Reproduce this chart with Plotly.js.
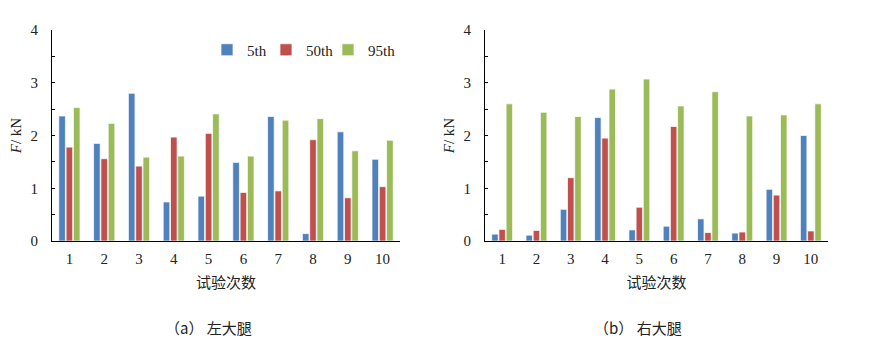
<!DOCTYPE html>
<html>
<head>
<meta charset="utf-8">
<script src="https://cdn.plot.ly/plotly-3.0.1.min.js"></script>
<style>html,body{margin:0;padding:0;background:#fff;}#chart{width:875px;height:355px;}</style>
</head>
<body>
<div id="chart"></div>
<script>
const trials = ['1','2','3','4','5','6','7','8','9','10'];
const seriesNames = ['5th','50th','95th'];
const colors = ['#4F81BD','#C0504D','#9BBB59'];
// (a) left thigh
const left5 = [2.37,1.85,2.80,0.74,0.85,1.49,2.36,0.14,2.07,1.55];
const left50 = [1.78,1.56,1.42,1.97,2.04,0.92,0.95,1.92,0.82,1.03];
const left95 = [2.53,2.23,1.59,1.61,2.41,1.61,2.29,2.32,1.71,1.91];
// (b) right thigh
const right5 = [0.13,0.11,0.60,2.34,0.21,0.28,0.42,0.15,0.98,2.00];
const right50 = [0.22,0.20,1.20,1.95,0.64,2.17,0.16,0.17,0.87,0.19];
const right95 = [2.60,2.44,2.36,2.88,3.07,2.56,2.83,2.37,2.39,2.60];
const xTitle = '试验次数';
const yTitle = '<i>F</i>/ kN';
const captions = ['（a） 左大腿','（b） 右大腿'];

const serif = 'Liberation Serif';
const cjk = 'Noto Sans CJK SC';
const W=875,H=355;
const legendNames = ['legend','legend2','legend3'];
const legendX = [207, 266, 328];

function mk(vals, i, xa, ya, show){
  return {type:'bar', x:trials, y:vals, name:seriesNames[i], xaxis:xa, yaxis:ya,
    showlegend:show, legend:legendNames[i],
    marker:{color:colors[i], line:{color:'rgba(255,255,255,0.7)', width:1}}};
}
const data = [
  mk(left5,0,'x','y',true), mk(left50,1,'x','y',true), mk(left95,2,'x','y',true),
  mk(right5,0,'x2','y2',false), mk(right50,1,'x2','y2',false), mk(right95,2,'x2','y2',false)
];
const yDom=[1-241/H, 1-30/H];
function xax(dom, anchor){
  return {type:'category', domain:dom, anchor:anchor, showline:true, linecolor:'#000', linewidth:1,
    ticks:'', showgrid:false, zeroline:false, automargin:false,
    tickfont:{family:serif,size:15,color:'#222'}, ticklabelstandoff:4,
    title:{text:xTitle, font:{family:cjk,size:15,color:'#222'}, standoff:11}};
}
function yax(anchor){
  return {domain:yDom, anchor:anchor, range:[0,4], dtick:1, showline:true, linecolor:'#000', linewidth:1,
    ticks:'inside', ticklen:3, tickcolor:'#000', showgrid:false, zeroline:false, automargin:false,
    minor:{dtick:0.5, ticks:'inside', ticklen:3, tickcolor:'#000', showgrid:false},
    tickfont:{family:serif,size:15,color:'#222'}, ticklabelstandoff:10,
    title:{text:yTitle, font:{family:serif,size:15,color:'#222'}, standoff:5}};
}
function leg(px){
  return {orientation:'h', x:px/W, y:1-50/H, xanchor:'left', yanchor:'middle',
    font:{family:serif,size:15,color:'#222'}, itemwidth:30, bgcolor:'rgba(0,0,0,0)'};
}
const layout = {
  width:W, height:H, margin:{l:0,r:0,t:0,b:0}, paper_bgcolor:'#fff', plot_bgcolor:'#fff',
  barmode:'group', bargap:0.37, bargroupgap:0.1, showlegend:true,
  legend:leg(legendX[0]), legend2:leg(legendX[1]), legend3:leg(legendX[2]),
  xaxis:xax([52/W,400/W],'y'), yaxis:yax('x'),
  xaxis2:xax([485/W,828/W],'y2'), yaxis2:yax('x2'),
  annotations:[
    {text:captions[0], xref:'paper', yref:'paper', x:208/W, y:1-327/H, showarrow:false, xanchor:'center', yanchor:'middle', font:{family:cjk,size:15,color:'#222'}},
    {text:captions[1], xref:'paper', yref:'paper', x:638/W, y:1-327/H, showarrow:false, xanchor:'center', yanchor:'middle', font:{family:cjk,size:15,color:'#222'}}
  ]
};
Plotly.newPlot('chart', data, layout, {displayModeBar:false, staticPlot:true});
</script>
</body>
</html>
